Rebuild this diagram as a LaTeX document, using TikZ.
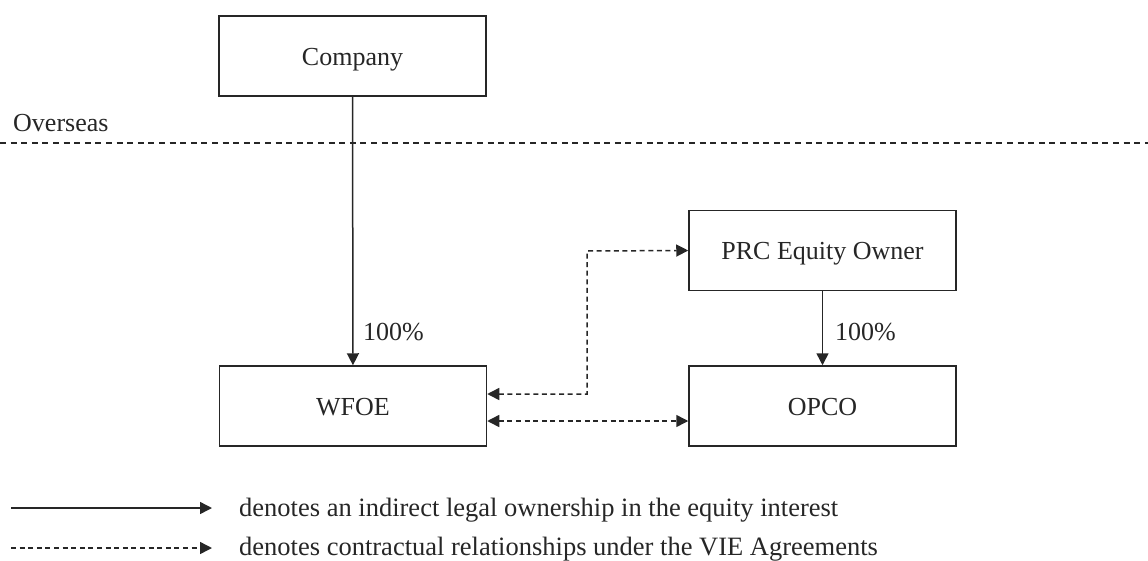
\documentclass[tikz,border=0pt]{standalone}
\usepackage{fontspec}
\setmainfont{Liberation Serif}
\usetikzlibrary{arrows.meta,calc}
\definecolor{ink}{HTML}{262626}
\tikzset{
  box/.style={draw=ink, line width=1.5pt, minimum width=267pt, minimum height=80pt, inner sep=0pt, text height=18pt, text depth=0pt, font=\fontsize{26pt}{30pt}\selectfont, text=ink},
  lbl/.style={font=\fontsize{26pt}{30pt}\selectfont, text=ink, inner sep=0pt},
  leg/.style={font=\fontsize{26.5pt}{30pt}\selectfont, text=ink, inner sep=0pt},
  own/.style={draw=ink, line width=1.5pt, -{Triangle[length=12pt,width=12pt]}},
  vie/.style={draw=ink, line width=1.5pt, dash pattern=on 5pt off 3.6pt, {Triangle[length=12pt,width=12pt]}-{Triangle[length=12pt,width=12pt]}},
  vieone/.style={draw=ink, line width=1.5pt, dash pattern=on 5pt off 3.6pt, -{Triangle[length=12pt,width=12pt]}},
  border/.style={draw=ink, line width=1.5pt, dash pattern=on 6pt off 4.6pt}
}
\begin{document}
\begin{tikzpicture}[x=1pt,y=-1pt]
\useasboundingbox (0,0) rectangle (1148,560);
\node[box] (company) at (352.5,56) {Company};
\node[box] (wfoe) at (353,406) {WFOE};
\node[box] (prc) at (822.5,250.5) {PRC Equity Owner};
\node[box] (opco) at (822.5,406) {OPCO};
\node[lbl, anchor=base west] (overseas) at (13,131) {Overseas};
\coordinate (bl) at (0,143);
\coordinate (br) at (1148,143);
\draw[border] (bl) -- (br);
\draw[own] (company) -- (wfoe);
\node[lbl, anchor=west] (p1) at (363,332) {100\%};
\draw[own] (prc) -- (opco);
\node[lbl, anchor=west] (p2) at (835,332) {100\%};
\coordinate (bend) at (587,251);
\draw[vie] ([yshift=12pt]wfoe.east) -| (bend) -- (prc.west);
\draw[vie] ([yshift=-15pt]wfoe.east) -- ([yshift=-15pt]opco.west);
\coordinate (l1a) at (11,508);
\coordinate (l1b) at (212,508);
\draw[own] (l1a) -- (l1b);
\node[leg, anchor=base west] (t1) at (239,516) {denotes an indirect legal ownership in the equity interest};
\coordinate (l2a) at (11,548);
\coordinate (l2b) at (212,548);
\draw[vieone] (l2a) -- (l2b);
\node[leg, anchor=base west] (t2) at (239,555) {denotes contractual relationships under the VIE Agreements};
\end{tikzpicture}
\end{document}
